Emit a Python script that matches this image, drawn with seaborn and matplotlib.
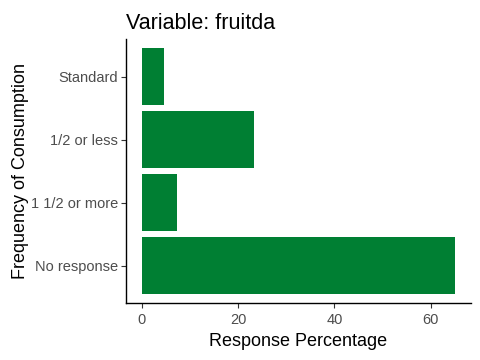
import matplotlib
matplotlib.use("Agg")
import matplotlib.pyplot as plt
import seaborn as sns
import pandas as pd

# =====================================================
# DATA
# =====================================================

categories = ["Standard", "1/2 or less", "1 1/2 or more", "No response"]
percentages = [4.6, 23.3, 7.3, 65.1]

df = pd.DataFrame({
    "category": categories,
    "pct": percentages
})

# =====================================================
# STYLE
# =====================================================

sns.set_theme(style="ticks")
plt.rcParams["font.family"] = ["Liberation Sans", "DejaVu Sans"]

# =====================================================
# PLOT
# =====================================================

fig = plt.figure(figsize=(4.8, 3.6), dpi=100)
ax = fig.add_axes([0.263, 0.157, 0.718, 0.735])

sns.barplot(
    data=df,
    x="pct",
    y="category",
    order=categories,
    color="#007F33",
    saturation=1,
    width=0.9,
    linewidth=0,
    orient="h",
    ax=ax
)

xmax = max(percentages)
ax.set_xlim(-0.05 * xmax, xmax * 1.05)
ax.set_ylim(3.6, -0.6)
ax.set_xticks([0, 20, 40, 60])

ax.set_title("Variable: fruitda", loc="left", fontsize=15.5, pad=7, color="black")
ax.set_xlabel("Response Percentage", fontsize=13, color="black", labelpad=4)
ax.set_ylabel("Frequency of Consumption", fontsize=13, color="black", labelpad=1)

ax.tick_params(axis="both", labelsize=10.5, labelcolor="#4D4D4D",
               color="#333333", length=3.5, width=0.8)
ax.tick_params(axis="y", pad=2.5)

for side in ["top", "right"]:
    ax.spines[side].set_visible(False)
for side in ["left", "bottom"]:
    ax.spines[side].set_color("black")
    ax.spines[side].set_linewidth(1.0)

fig.savefig("out.png", dpi=100)
